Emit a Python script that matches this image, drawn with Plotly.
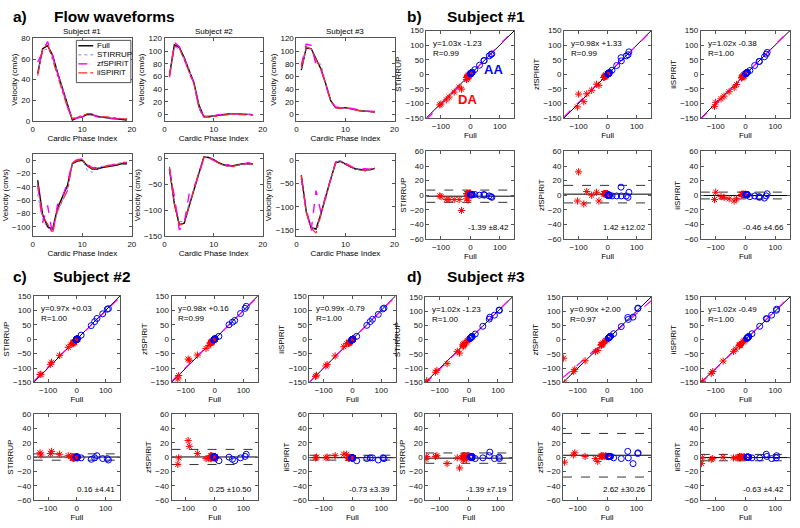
import plotly.graph_objects as go

W, H = 800, 528

# ---------------- DATA ----------------
subjects = ["Subject #1", "Subject #2", "Subject #3"]
methods = ["STIRRUP", "zfSPIRiT", "iiSPIRiT"]

phase_s1 = list(range(1, 20))
phase_s2 = list(range(1, 19))
phase_s3 = list(range(1, 17))

# Subject 1 (AA = forward flow, DA = reverse flow), cm/s
full_aa_s1 = [46, 70, 73, 64, 47, 31, 15, 1, 3, 4, 6.5, 6, 4.5, 3.5, 3, 2.5, 2, 1.5, 1]
stir_aa_s1 = [47, 68, 70, 63, 47, 31, 16, 2, 4, 5, 7, 7, 5, 4, 4, 3, 3, 2, 2]
zf_aa_s1 = [57, 67, 77, 63, 46, 30, 14, 1, 3, 4, 6, 6, 4, 3, 3, 2, 2, 1, 1]
ii_aa_s1 = [44, 69, 75, 60, 44, 30, 13, 2, 4, 5, 7, 7, 5, 4, 4, 3, 3, 2, 2]
full_da_s1 = [-30, -82, -100, -104, -72, -55, -38, -5, -1, 0, -8, -13, -13, -11, -10, -9, -7, -5, -5]
stir_da_s1 = [-51, -88, -102, -105, -78, -61, -44, -4, 1, 2, -15, -18, -11, -9, -8, -7, -5, -3, -3]
zf_da_s1 = [-38, -94, -68, -112, -67, -55, -34, -3, 1, 2, -6, -11, -11, -9, -8, -7, -5, -3, -3]
ii_da_s1 = [-35, -84, -96, -110, -75, -60, -46, -4, 0, 1, -7, -12, -12, -10, -9, -8, -6, -4, -4]

# Subject 2
full_aa_s2 = [62, 110, 106, 90, 70, 50, 15, -3, -3, -2, 0, 1, 1, 1.5, 1, 0.5, 0, 0]
stir_aa_s2 = [61, 106, 104, 88, 72, 47, 14, -3, -3, -2, 0, 1, 1, 1.5, 1, 0.5, 0, 0]
zf_aa_s2 = [59, 114, 107, 89, 65, 50, 10, -3, -2, -2, 0, 1, 1, 1.5, 1, 0.5, 0, 0]
ii_aa_s2 = [61, 108, 105, 86, 69, 48, 10, -4, -4, -3, -1, 0, 0, 0.5, 0, -0.5, -1, -1]
full_da_s2 = [-20, -88, -128, -125, -92, -60, -30, 3, 2, -2, -8, -12, -14, -14, -12, -10, -10, -10]
stir_da_s2 = [-19, -80, -122, -122, -87, -56, -28, 2, 1, -3, -9, -13, -15, -15, -13, -11, -11, -11]
zf_da_s2 = [-22, -73, -138, -126, -69, -55, -32, 1, 3, -4, -7, -13, -12, -16, -11, -11, -8, -10]
ii_da_s2 = [-16, -88, -129, -125, -93, -58, -26, 2, 1, -3, -9, -13, -15, -15, -13, -11, -11, -11]

# Subject 3
full_aa_s3 = [70, 105, 104, 88, 72, 48, 22, 11, 10, 11, 9, 7, 6, 5.5, 5, 4]
stir_aa_s3 = [72, 103, 104, 86, 79, 47, 20, 12, 11, 10, 9, 7, 6, 5.5, 5, 4]
zf_aa_s3 = [78, 111, 109, 79, 71, 46, 21, 12, 11, 12, 10, 8, 7, 6, 6, 5]
ii_aa_s3 = [74, 107, 103, 86, 73, 47, 21, 11, 10, 11, 9, 7, 6, 5.5, 5, 4]
full_da_s3 = [-32, -110, -145, -148, -115, -75, -40, -5, -2, -8, -14, -18, -20, -20, -20, -17]
stir_da_s3 = [-47, -108, -144, -151, -114, -84, -41, -3, 0, -11, -12, -21, -18, -24, -19, -15]
zf_da_s3 = [-38, -104, -152, -65, -112, -74, -42, -3, -1, -7, -12, -17, -19, -18, -19, -16]
ii_da_s3 = [-33, -112, -146, -157, -118, -75, -41, -5, -2, -8, -13, -19, -20, -21, -19, -17]

# regression (slope, intercept, R) and Bland-Altman (bias, limit) per subject x method
reg_slope = [[1.03, 0.98, 1.02], [0.97, 0.98, 0.99], [1.02, 0.90, 1.02]]
reg_icpt = [[-1.23, 1.33, -0.38], [0.03, 0.16, -0.79], [-1.23, 2.00, -0.49]]
reg_r = [[0.99, 0.99, 1.00], [1.00, 0.99, 1.00], [1.00, 0.97, 1.00]]
ba_bias = [[-1.39, 1.42, -0.46], [0.16, 0.25, -0.73], [-1.39, 2.62, -0.63]]
ba_limit = [[8.42, 12.02, 4.66], [4.41, 10.50, 3.39], [7.19, 30.26, 4.42]]

# waveform axis ranges
wave_top_range = [[0, 80], [-10, 120], [-10, 120]]
wave_top_ticks = [[0, 20, 40, 60, 80], [0, 20, 40, 60, 80, 100, 120], [0, 20, 40, 60, 80, 100, 120]]
wave_bot_range = [[-114, 9], [-150, 8], [-163, 13]]
wave_bot_ticks = [[-100, -80, -60, -40, -20, 0], [-150, -100, -50, 0], [-150, -100, -50, 0]]

phases = [phase_s1, phase_s2, phase_s3]
full_aa = [full_aa_s1, full_aa_s2, full_aa_s3]
full_da = [full_da_s1, full_da_s2, full_da_s3]
meth_aa = [[stir_aa_s1, zf_aa_s1, ii_aa_s1], [stir_aa_s2, zf_aa_s2, ii_aa_s2], [stir_aa_s3, zf_aa_s3, ii_aa_s3]]
meth_da = [[stir_da_s1, zf_da_s1, ii_da_s1], [stir_da_s2, zf_da_s2, ii_da_s2], [stir_da_s3, zf_da_s3, ii_da_s3]]

# ---------------- STYLE ----------------
FONT = "Liberation Sans, Arial, Helvetica, sans-serif"
FS = 8
AXC = "#555555"
RED = "#ff0000"
BLUE = "#0000ff"
MAG = "#ff00ff"

line_styles = {
    "Full": dict(color="black", width=1.4, dash="solid"),
    "STIRRUP": dict(color="#7f7fff", width=1, dash="dot"),
    "zfSPIRiT": dict(color=MAG, width=1.4, dash="dash"),
    "iiSPIRiT": dict(color="#ff2a2a", width=1.2, dash="dashdot"),
}

fig = go.Figure()
layout = dict(width=W, height=H, margin=dict(l=0, r=0, t=0, b=0),
              paper_bgcolor="white", plot_bgcolor="white", showlegend=False,
              font=dict(family=FONT, size=FS, color="black"))
annotations = []
shapes = []
n_axes = [0]


def add_axes(px, py, xr, yr, xticks, yticks, xtitle, ytitle):
    n_axes[0] += 1
    n = n_axes[0]
    s = "" if n == 1 else str(n)
    common = dict(showline=True, mirror="ticks", linecolor=AXC, linewidth=1,
                  ticks="inside", ticklen=3, tickcolor=AXC, showgrid=False,
                  zeroline=False, tickfont=dict(size=FS, family=FONT, color="#111"))
    layout["xaxis" + s] = dict(domain=[px[0] / W, px[1] / W], range=xr, tickvals=xticks,
                               anchor="y" + s, title=dict(text=xtitle, font=dict(size=FS), standoff=1),
                               **common)
    layout["yaxis" + s] = dict(domain=[1 - py[1] / H, 1 - py[0] / H], range=yr, tickvals=yticks,
                               anchor="x" + s, title=dict(text=ytitle, font=dict(size=FS), standoff=2),
                               **common)
    return "x" + s, "y" + s


# ---------------- PANEL a: waveforms ----------------
a_cols = [(31, 131), (164, 263), (297, 396)]
a_top = (35, 119)
a_bot = (153, 236)
names = ["Full"] + methods
for si in range(3):
    for row, (py, rng, tks) in enumerate([(a_top, wave_top_range[si], wave_top_ticks[si]),
                                          (a_bot, wave_bot_range[si], wave_bot_ticks[si])]):
        xa, ya = add_axes(a_cols[si], py, [0, 20], rng, [0, 10, 20], tks,
                          "Cardic Phase Index", "Velocity (cm/s)")
        series = [full_aa[si]] + meth_aa[si] if row == 0 else [full_da[si]] + meth_da[si]
        for nm, vals in zip(names, series):
            fig.add_trace(go.Scatter(x=phases[si], y=vals, mode="lines", name=nm,
                                     line=line_styles[nm], xaxis=xa, yaxis=ya))
    annotations.append(dict(text=subjects[si], x=(a_cols[si][0] + a_cols[si][1]) / 2 / W,
                            y=1 - 28 / H, xref="paper", yref="paper", showarrow=False,
                            font=dict(size=FS), xanchor="center", yanchor="middle"))

# manual legend box in subject 1 top panel
lx0, lx1, ly0, ly1 = 75, 130, 37, 80
shapes.append(dict(type="rect", xref="paper", yref="paper", x0=lx0 / W, x1=lx1 / W,
                   y0=1 - ly1 / H, y1=1 - ly0 / H, fillcolor="white",
                   line=dict(color=AXC, width=1), layer="above"))
for k, nm in enumerate(names):
    yy = 1 - (42.5 + k * 9.2) / H
    st = line_styles[nm]
    shapes.append(dict(type="line", xref="paper", yref="paper", x0=77 / W, x1=92 / W,
                       y0=yy, y1=yy, line=dict(color=st["color"], width=st["width"], dash=st["dash"]),
                       layer="above"))
    annotations.append(dict(text=nm, x=93.5 / W, y=yy, xref="paper", yref="paper",
                            showarrow=False, xanchor="left", yanchor="middle",
                            font=dict(size=FS)))

# ---------------- PANELS b, c, d ----------------
panel_cols = [
    [(428, 517), (567, 655), (705, 795)],
    [(32, 119), (171, 258), (310, 397)],
    [(427, 515), (566, 655), (705, 795)],
]
panel_rows = [
    [(27, 116), (150, 239)],
    [(297, 385), (417, 505)],
    [(298, 385), (417, 505)],
]
full_line = [-150, 150]
star = dict(symbol="asterisk-open", size=6, color=RED, line=dict(color=RED, width=1))
circ = dict(symbol="circle-open", size=6, color=BLUE, line=dict(color=BLUE, width=1))

for si in range(3):
    for mi in range(3):
        px = panel_cols[si][mi]
        # correlation plot
        xa, ya = add_axes(px, panel_rows[si][0], [-150, 150], [-150, 150], [-100, 0, 100],
                          [-150, -100, -50, 0, 50, 100, 150], "Full", methods[mi])
        fig.add_trace(go.Scatter(x=full_line, y=full_line, mode="lines",
                                 line=dict(color="black", width=1), xaxis=xa, yaxis=ya))
        fig.add_trace(go.Scatter(x=full_line,
                                 y=[reg_slope[si][mi] * v + reg_icpt[si][mi] for v in full_line],
                                 mode="lines", line=dict(color=MAG, width=1.2, dash="dash"),
                                 xaxis=xa, yaxis=ya))
        fig.add_trace(go.Scatter(x=full_da[si], y=meth_da[si][mi], mode="markers",
                                 marker=star, xaxis=xa, yaxis=ya))
        fig.add_trace(go.Scatter(x=full_aa[si], y=meth_aa[si][mi], mode="markers",
                                 marker=circ, xaxis=xa, yaxis=ya))
        annotations.append(dict(text=f"y={reg_slope[si][mi]:.2f}x {reg_icpt[si][mi]:+.2f}<br>R={reg_r[si][mi]:.2f}",
                                x=-133, y=88, xref=xa, yref=ya, showarrow=False,
                                xanchor="left", yanchor="middle", align="left",
                                font=dict(size=FS)))
        if si == 0 and mi == 0:
            annotations.append(dict(text="<b>AA</b>", x=79, y=15, xref=xa, yref=ya, showarrow=False,
                                    font=dict(size=13, color=BLUE)))
            annotations.append(dict(text="<b>DA</b>", x=-10, y=-86, xref=xa, yref=ya, showarrow=False,
                                    font=dict(size=13, color=RED)))

        # Bland-Altman plot
        xb, yb = add_axes(px, panel_rows[si][1], [-150, 150], [-60, 60], [-100, 0, 100],
                          [-60, -40, -20, 0, 20, 40, 60], "Full", methods[mi])
        b = ba_bias[si][mi]
        lim = ba_limit[si][mi]
        fig.add_trace(go.Scatter(x=full_line, y=[b, b], mode="lines",
                                 line=dict(color="black", width=1), xaxis=xb, yaxis=yb))
        for yv in (b + lim, b - lim):
            fig.add_trace(go.Scatter(x=full_line, y=[yv, yv], mode="lines",
                                     line=dict(color="#333", width=1, dash="dash"),
                                     xaxis=xb, yaxis=yb))
        fig.add_trace(go.Scatter(x=full_da[si],
                                 y=[m - f for m, f in zip(meth_da[si][mi], full_da[si])],
                                 mode="markers", marker=star, xaxis=xb, yaxis=yb))
        fig.add_trace(go.Scatter(x=full_aa[si],
                                 y=[m - f for m, f in zip(meth_aa[si][mi], full_aa[si])],
                                 mode="markers", marker=circ, xaxis=xb, yaxis=yb))
        annotations.append(dict(text=f"{b:.2f} ±{lim:.2f}", x=138, y=-45, xref=xb, yref=yb,
                                showarrow=False, xanchor="right", yanchor="middle",
                                font=dict(size=FS)))

# ---------------- headings ----------------
headings = [("a)", 9, 13), ("Flow waveforms", 50, 13), ("b)", 407, 13), ("Subject #1", 447, 13),
            ("c)", 9, 277), ("Subject #2", 49, 277), ("d)", 407, 277), ("Subject #3", 447, 277)]
for txt, hx, hy in headings:
    annotations.append(dict(text=f"<b>{txt}</b>", x=hx / W, y=1 - hy / H, xref="paper", yref="paper",
                            showarrow=False, xanchor="left", yanchor="middle",
                            font=dict(size=15.5, family=FONT, color="black")))

layout["annotations"] = annotations
layout["shapes"] = shapes
fig.update_layout(**layout)
fig.write_html("out.html", config={"displayModeBar": False},
               post_script="document.body.style.margin='0px';")
